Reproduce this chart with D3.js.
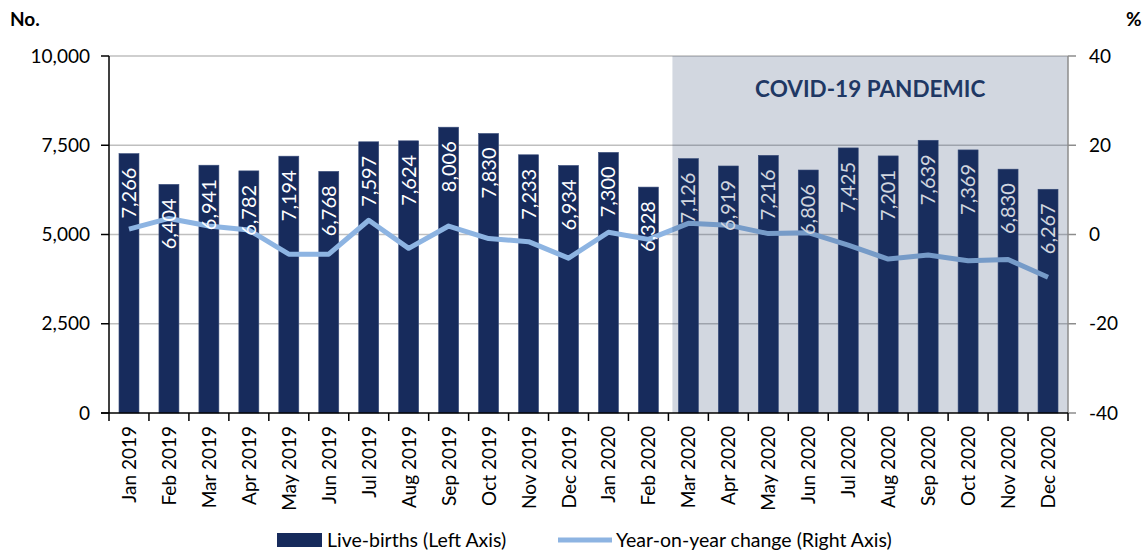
<!DOCTYPE html>
<html>
<head>
<meta charset="utf-8">
<script src="https://cdn.jsdelivr.net/npm/d3@7"></script>
<style>
  body { margin: 0; background: #fff; }
  svg text { font-family: Lato, "Open Sans", sans-serif; }
</style>
</head>
<body>
<svg id="chart" width="1145" height="551"></svg>
<script>
// Monthly live-births and year-on-year change, 2019-2020
const months = ["Jan 2019","Feb 2019","Mar 2019","Apr 2019","May 2019","Jun 2019",
  "Jul 2019","Aug 2019","Sep 2019","Oct 2019","Nov 2019","Dec 2019",
  "Jan 2020","Feb 2020","Mar 2020","Apr 2020","May 2020","Jun 2020",
  "Jul 2020","Aug 2020","Sep 2020","Oct 2020","Nov 2020","Dec 2020"]
const births = [7266, 6404, 6941, 6782, 7194, 6768, 7597, 7624, 8006, 7830, 7233, 6934,
  7300, 6328, 7126, 6919, 7216, 6806, 7425, 7201, 7639, 7369, 6830, 6267]
const yoyChange = [1.2, 3.6, 1.9, 1.0, -4.4, -4.4, 3.2, -3.1, 1.9, -0.9, -1.6, -5.3,
  0.5, -1.1, 2.5, 2.1, 0.2, 0.4, -2.4, -5.5, -4.6, -5.9, -5.6, -9.6]
const leftTicks = [0, 2500, 5000, 7500, 10000]
const rightTicks = [-40, -20, 0, 20, 40]
const pandemicStart = "Mar 2020"

const svg = d3.select("#chart")
const plotL = 109, plotR = 1068, plotT = 56, plotB = 413

const x = d3.scaleBand().domain(months).range([plotL, plotR]).paddingInner(0.5).paddingOuter(0.25)
const yL = d3.scaleLinear().domain([0, 10000]).range([plotB, plotT])
const yR = d3.scaleLinear().domain([-40, 40]).range([plotB, plotT])
const step = x.step()
const mid = d => x(d) + x.bandwidth() / 2

// gridlines
svg.append("g").selectAll("line")
  .data(leftTicks.filter(d => d > 0))
  .enter().append("line")
  .attr("x1", plotL).attr("x2", plotR)
  .attr("y1", d => yL(d)).attr("y2", d => yL(d))
  .attr("stroke", "#bfbfbf").attr("stroke-width", 1.5)

// bars
svg.append("g").selectAll("rect")
  .data(births)
  .enter().append("rect")
  .attr("x", (d, i) => x(months[i]))
  .attr("width", x.bandwidth())
  .attr("y", d => yL(d))
  .attr("height", d => plotB - yL(d))
  .attr("fill", "#172b5c")
  .attr("stroke", "#3b4f7c").attr("stroke-width", 0.6)

// year-on-year line
const line = d3.line().x((d, i) => mid(months[i])).y(d => yR(d))
svg.append("path")
  .datum(yoyChange)
  .attr("d", line)
  .attr("fill", "none")
  .attr("stroke", "#8db4e2")
  .attr("stroke-width", 5)
  .attr("stroke-linejoin", "round")

// data labels inside the bar tops, rotated
svg.append("g").selectAll("text")
  .data(births)
  .enter().append("text")
  .attr("transform", (d, i) => `translate(${mid(months[i]) + 7},${yL(d) + 14}) rotate(-90)`)
  .attr("text-anchor", "end")
  .attr("fill", "#fff")
  .attr("font-size", 20)
  .text(d => d3.format(",")(d))

// pandemic shading (translucent, over the marks)
const shadeX = x(pandemicStart) - (step - x.bandwidth()) / 2 + 4
svg.append("rect")
  .attr("x", shadeX).attr("y", plotT)
  .attr("width", plotR - shadeX).attr("height", plotB - plotT)
  .attr("fill", "#1f3864").attr("opacity", 0.2)

svg.append("text")
  .attr("x", (shadeX + plotR) / 2).attr("y", 97)
  .attr("text-anchor", "middle")
  .attr("font-size", 22.5).attr("font-weight", "bold")
  .attr("fill", "#1f3864")
  .text("COVID-19 PANDEMIC")

// left axis
svg.append("line").attr("x1", plotL).attr("x2", plotL).attr("y1", plotT).attr("y2", plotB)
  .attr("stroke", "#000").attr("stroke-width", 1.5)
const lt = svg.append("g").selectAll("g").data(leftTicks).enter().append("g")
lt.append("line").attr("x1", plotL - 8).attr("x2", plotL).attr("y1", d => yL(d)).attr("y2", d => yL(d))
  .attr("stroke", "#000").attr("stroke-width", 1.5)
lt.append("text").attr("x", plotL - 19).attr("y", d => yL(d)).attr("dy", "0.35em")
  .attr("text-anchor", "end").attr("font-size", 19).attr("fill", "#000")
  .text(d => d3.format(",")(d))

// right axis
svg.append("line").attr("x1", plotR).attr("x2", plotR).attr("y1", plotT).attr("y2", plotB)
  .attr("stroke", "#8c8c8c").attr("stroke-width", 1.5)
const rt = svg.append("g").selectAll("g").data(rightTicks).enter().append("g")
rt.append("line").attr("x1", plotR).attr("x2", plotR + 8).attr("y1", d => yR(d)).attr("y2", d => yR(d))
  .attr("stroke", "#8c8c8c").attr("stroke-width", 1.5)
rt.append("text").attr("x", plotR + 21).attr("y", d => yR(d)).attr("dy", "0.35em")
  .attr("text-anchor", "start").attr("font-size", 19).attr("fill", "#000")
  .text(d => d)

// bottom axis with ticks between categories
svg.append("line").attr("x1", plotL - 8).attr("x2", plotR).attr("y1", plotB).attr("y2", plotB)
  .attr("stroke", "#000").attr("stroke-width", 1.5)
const bounds = d3.range(months.length + 1).map(i => plotL + i * step)
svg.append("g").selectAll("line").data(bounds).enter().append("line")
  .attr("x1", d => d).attr("x2", d => d).attr("y1", plotB).attr("y2", plotB + 8)
  .attr("stroke", "#000").attr("stroke-width", 1.5)
svg.append("g").selectAll("text").data(months).enter().append("text")
  .attr("transform", d => `translate(${mid(d) + 7},${plotB + 13}) rotate(-90)`)
  .attr("text-anchor", "end").attr("font-size", 19).attr("fill", "#000")
  .text(d => d)

// axis titles
svg.append("text").attr("x", 10).attr("y", 26).attr("font-size", 19).attr("font-weight", "bold").text("No.")
svg.append("text").attr("x", 1126).attr("y", 26).attr("font-size", 19).attr("font-weight", "bold").text("%")

// legend
const lg = svg.append("g")
lg.append("rect").attr("x", 277).attr("y", 533).attr("width", 45).attr("height", 14).attr("fill", "#172b5c")
lg.append("text").attr("x", 327).attr("y", 540).attr("dy", "0.35em").attr("font-size", 19.5).text("Live-births (Left Axis)")
lg.append("line").attr("x1", 558).attr("x2", 612).attr("y1", 540).attr("y2", 540)
  .attr("stroke", "#8db4e2").attr("stroke-width", 5)
lg.append("text").attr("x", 616).attr("y", 540).attr("dy", "0.35em").attr("font-size", 19.5).text("Year-on-year change (Right Axis)")
</script>
</body>
</html>
